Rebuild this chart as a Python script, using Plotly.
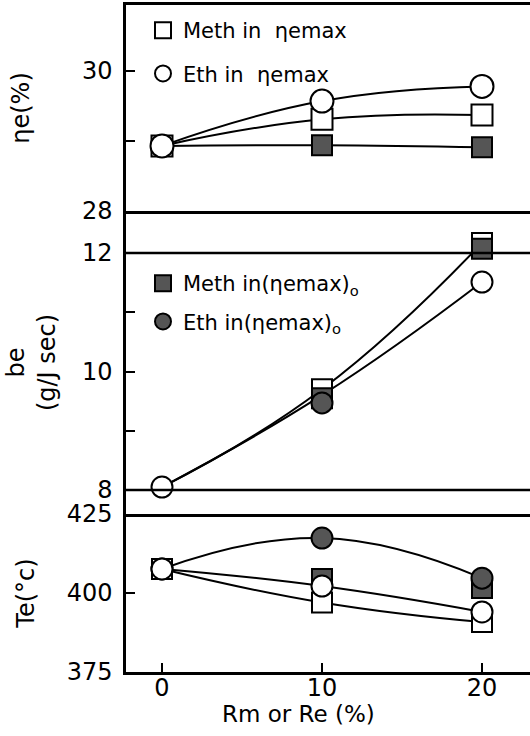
import plotly.graph_objects as go

# ---------------- data ----------------
rm = [0, 10, 20]  # Rm or Re (%)

# top panel: ηe (%)
eta_meth_open = [28.93, 29.31, 29.37]
eta_eth_open = [28.93, 29.57, 29.78]
eta_meth_filled = [28.93, 28.94, 28.91]

# middle panel: be (g/J sec)
be_meth_open = [8.05, 9.70, 12.17]
be_eth_open = [8.05, 9.60, 11.51]
be_meth_filled = [None, 9.55, 12.07]
be_eth_filled = [None, 9.47, None]

# bottom panel: Te (°C)
te_eth_filled = [407.6, 417.4, 404.7]
te_meth_filled = [None, 404.4, 401.6]
te_eth_open = [407.6, 402.2, 394.0]
te_meth_open = [407.6, 397.0, 390.8]

eta_ticks = [28, 30]
eta_minor = [29]
be_ticks = [8, 10, 12]
be_minor = [9, 11]
te_ticks = [375, 400, 425]
x_ticks = [0, 10, 20]

names = {
    "mo": "Meth in  ηemax",
    "eo": "Eth in  ηemax",
    "mf": "Meth in(ηemax)<sub>o</sub>",
    "ef": "Eth in(ηemax)<sub>o</sub>",
}

FILL = "#555555"
FONT = "DejaVu Sans"

fig = go.Figure()


def line(y, xa, ya):
    fig.add_trace(go.Scatter(
        x=rm, y=y, mode="lines", xaxis=xa, yaxis=ya, showlegend=False,
        line=dict(color="black", width=2, shape="spline", smoothing=1.3),
        hoverinfo="skip"))


def marks(y, xa, ya, symbol, filled, size, name=None, legend=None):
    fig.add_trace(go.Scatter(
        x=rm, y=y, mode="markers", xaxis=xa, yaxis=ya,
        name=name if name else "", showlegend=bool(legend),
        legend=legend if legend else "legend",
        legendgroup=(name or "") + (legend or ""),
        marker=dict(symbol=symbol, size=size,
                    color=FILL if filled else "white",
                    line=dict(color="black", width=2))))


# top panel
line(eta_eth_open, "x", "y")
line(eta_meth_open, "x", "y")
line(eta_meth_filled, "x", "y")
marks(eta_meth_filled, "x", "y", "square", True, 20)
marks(eta_meth_open, "x", "y", "square", False, 21, names["mo"], "legend")
marks(eta_eth_open, "x", "y", "circle", False, 23, names["eo"], "legend")

# middle panel
line(be_meth_open, "x2", "y2")
line(be_eth_open, "x2", "y2")
marks([None, be_meth_open[1], be_meth_open[2]], "x2", "y2", "square", False, 20)
marks(be_meth_filled, "x2", "y2", "square", True, 20, names["mf"], "legend2")
marks(be_eth_filled, "x2", "y2", "circle", True, 21, names["ef"], "legend2")
marks([be_eth_open[0], None, be_eth_open[2]], "x2", "y2", "circle", False, 21)

# bottom panel
line(te_eth_filled, "x3", "y3")
line(te_eth_open, "x3", "y3")
line(te_meth_open, "x3", "y3")
marks(te_meth_filled, "x3", "y3", "square", True, 20)
marks(te_eth_filled, "x3", "y3", "circle", True, 21)
marks(te_meth_open, "x3", "y3", "square", False, 20)
marks(te_eth_open, "x3", "y3", "circle", False, 21)

# ---------------- layout ----------------
W, H = 530, 736
ml, mr, mt, mb = 126, 0, 5, 64
ph = H - mt - mb


def py2paper(py):
    return (H - mb - py) / ph


d_top = [py2paper(211), 1.0]
d_mid = [py2paper(514), py2paper(211)]
d_bot = [0.0, py2paper(514)]

xrange_ = [-2.25, 23.0]
tickfont = dict(family=FONT, size=24, color="black")
titlefont = dict(family=FONT, size=24, color="black")

common_x = dict(range=xrange_, showgrid=False, zeroline=False,
                linecolor="black", linewidth=2.5)
common_y = dict(showgrid=False, zeroline=False, showline=True,
                linecolor="black", linewidth=2.5, ticks="inside",
                ticklen=9, tickwidth=2, tickcolor="black",
                tickfont=tickfont, automargin=False, ticklabelstandoff=6)
minor_style = dict(ticks="inside", ticklen=9, tickwidth=2,
                   tickcolor="black", showgrid=False)

fig.update_layout(
    width=W, height=H,
    margin=dict(l=ml, r=mr, t=mt, b=mb),
    paper_bgcolor="white", plot_bgcolor="white",
    font=dict(family=FONT, color="black"),
    xaxis=dict(common_x, anchor="y", showline=True, mirror=True,
               showticklabels=False, ticks=""),
    xaxis2=dict(common_x, anchor="y2", showline=True, mirror=False,
                showticklabels=False, ticks="", matches="x"),
    xaxis3=dict(common_x, anchor="y3", showline=True, mirror=False,
                ticks="inside", ticklen=9, tickwidth=2, tickcolor="black",
                tickvals=x_ticks, tickfont=tickfont, ticklabelstandoff=-8,
                matches="x"),
    yaxis=dict(common_y, domain=d_top, anchor="x",
               range=[28, 28 + 206 / 70.0], tickvals=eta_ticks,
               minor=dict(minor_style, tickvals=eta_minor),
               title=dict(text="ηe(%)", font=titlefont, standoff=46)),
    yaxis2=dict(common_y, domain=d_mid, anchor="x2",
                range=[8 - 24 / 59.25, 8 + 279 / 59.25], tickvals=be_ticks,
                minor=dict(minor_style, tickvals=be_minor),
                title=dict(text="be<br>(g/J sec)", font=titlefont, standoff=20)),
    yaxis3=dict(common_y, domain=d_bot, anchor="x3",
                range=[375, 425], tickvals=te_ticks,
                title=dict(text="Te(°c)", font=titlefont, standoff=26)),
    legend=dict(x=(143 - ml) / 404.0, y=py2paper(10), xanchor="left",
                yanchor="top", bgcolor="rgba(0,0,0,0)",
                font=dict(family=FONT, size=21, color="black"),
                tracegroupgap=13, itemsizing="trace"),
    legend2=dict(x=(143 - ml) / 404.0, y=py2paper(263), xanchor="left",
                 yanchor="top", bgcolor="rgba(0,0,0,0)",
                 font=dict(family=FONT, size=21, color="black"),
                 tracegroupgap=8, itemsizing="trace"),
    showlegend=True,
)

# reference lines at be = 12 and be = 8 in the middle panel
for v in (12, 8):
    fig.add_shape(type="line", xref="x2 domain", yref="y2",
                  x0=0, x1=1, y0=v, y1=v,
                  line=dict(color="black", width=2.5))

fig.add_annotation(text="Rm or Re (%)", xref="paper", yref="paper",
                   x=(298 - ml) / 404.0, y=py2paper(714), showarrow=False,
                   xanchor="center", yanchor="middle",
                   font=dict(family=FONT, size=23, color="black"))

fig.write_html("out.html")
